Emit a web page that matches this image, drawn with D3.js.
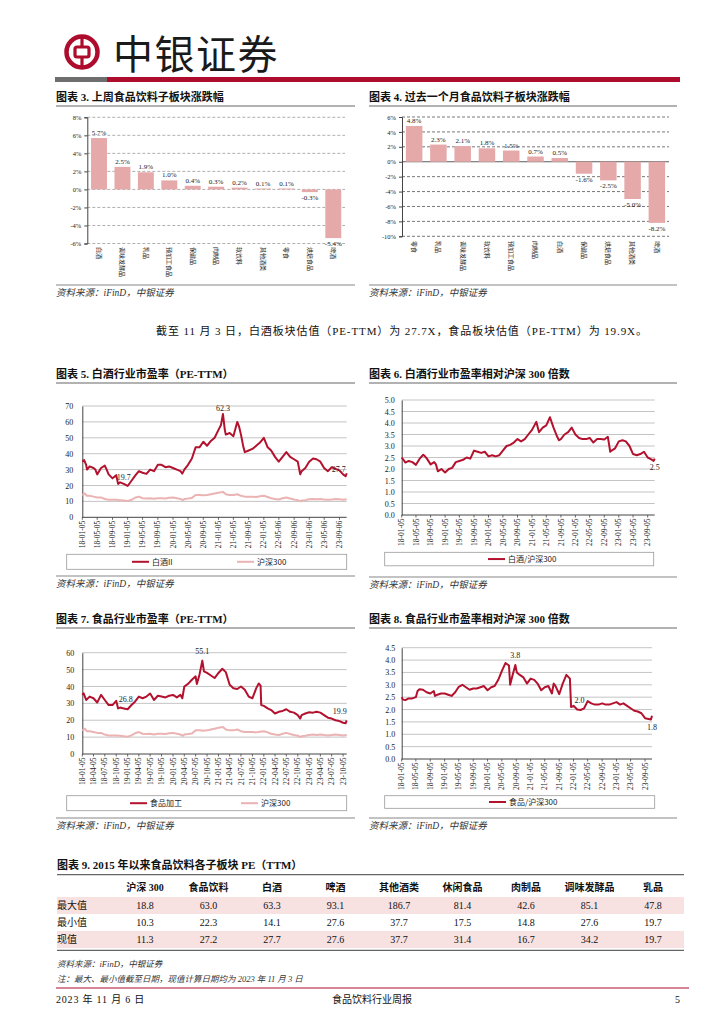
<!DOCTYPE html>
<html>
<head>
<meta charset="utf-8">
<script src="https://cdn.jsdelivr.net/npm/d3@7"></script>
<style>
  body { margin: 0; background: #fff; }
</style>
</head>
<body>
<svg id="page" width="724" height="1024"></svg>
<script>
// ---- data ----
var weekCats = ["白酒", "调味发酵品", "乳品", "预加工食品", "保健品", "肉制品", "软饮料", "其他酒类", "零食", "烘焙食品", "啤酒"];
var weekVals = [5.7, 2.5, 1.9, 1.0, 0.4, 0.3, 0.2, 0.1, 0.1, -0.3, -5.4];

var monthCats = ["零食", "乳品", "调味发酵品", "软饮料", "预加工食品", "肉制品", "白酒", "保健品", "烘焙食品", "其他酒类", "啤酒"];
var monthVals = [4.8, 2.3, 2.1, 1.8, 1.5, 0.7, 0.5, -1.6, -2.5, -5.0, -8.2];

var ticks4m = ["18-01-05", "18-05-05", "18-09-05", "19-01-05", "19-05-05", "19-09-05", "20-01-05", "20-05-05", "20-09-05",
  "21-01-05", "21-05-05", "21-09-05", "22-01-05", "22-05-06", "22-09-06", "23-01-06", "23-05-06", "23-09-06"];
var ticks4mB = ["18-01-05", "18-05-05", "18-09-05", "19-01-05", "19-05-05", "19-09-05", "20-01-05", "20-05-05", "20-09-05",
  "21-01-05", "21-05-05", "21-09-05", "22-01-05", "22-05-05", "22-09-05", "23-01-05", "23-05-05", "23-09-05"];
var ticks3m = ["18-01-05", "18-04-05", "18-07-05", "18-10-05", "19-01-05", "19-04-05", "19-07-05", "19-10-05",
  "20-01-05", "20-04-05", "20-07-05", "20-10-05", "21-01-05", "21-04-05", "21-07-05", "21-10-05",
  "22-01-05", "22-04-05", "22-07-05", "22-10-05", "23-01-05", "23-04-05", "23-07-05", "23-10-05"];

var baijiuPE = [["2018-01-05",35],["2018-01-20",36],["2018-02-05",33],["2018-02-12",30],["2018-03-05",32],["2018-04-05",31],
  ["2018-04-20",30],["2018-05-05",27],["2018-06-05",31],["2018-07-05",32.5],["2018-07-20",30],["2018-08-05",27],
  ["2018-09-05",24.5],["2018-10-05",26.5],["2018-10-20",21],["2018-11-05",22],["2018-12-05",21],["2019-01-05",19.7],
  ["2019-02-05",23],["2019-03-05",26],["2019-04-05",29],["2019-05-05",28],["2019-06-05",27.3],["2019-07-05",30],
  ["2019-08-05",29],["2019-09-05",33],["2019-10-05",33],["2019-11-05",31.5],["2019-12-05",32],["2020-01-05",31],
  ["2020-02-05",30],["2020-03-05",29],["2020-03-20",27.5],["2020-04-05",30],["2020-05-05",33],["2020-06-05",37],
  ["2020-07-05",44],["2020-08-05",44],["2020-09-05",47.5],["2020-10-05",45],["2020-11-05",48],["2020-12-05",50],
  ["2021-01-05",55],["2021-01-25",58],["2021-02-10",65],["2021-02-25",55],["2021-03-05",52],["2021-04-05",53],
  ["2021-05-05",51],["2021-06-05",60],["2021-06-20",57],["2021-07-05",52],["2021-07-25",44],["2021-08-05",41],
  ["2021-09-05",42],["2021-10-05",43],["2021-11-05",45],["2021-12-05",47],["2022-01-05",50],["2022-02-05",44],
  ["2022-03-05",42],["2022-04-05",38],["2022-05-05",35],["2022-06-05",38],["2022-07-05",41],["2022-08-05",38],
  ["2022-09-05",36.5],["2022-10-05",35],["2022-10-25",27],["2022-11-05",29],["2022-12-05",31],["2023-01-05",35],
  ["2023-02-05",37],["2023-03-05",36.5],["2023-04-05",35],["2023-05-05",31],["2023-06-05",29],["2023-07-05",31.5],
  ["2023-08-05",30.5],["2023-09-05",29.5],["2023-10-05",27],["2023-10-25",25.8],["2023-11-03",27.7]];

var hs300PE = [["2018-01-05",14],["2018-01-25",15],["2018-02-10",13.5],["2018-03-05",13.5],["2018-04-05",13],
  ["2018-05-05",12.5],["2018-06-05",12.5],["2018-07-05",11.5],["2018-08-05",11],["2018-09-05",11],["2018-10-05",11],
  ["2018-11-05",10.8],["2018-12-05",10.5],["2019-01-05",10.2],["2019-02-05",11],["2019-03-05",12.3],["2019-04-05",13],
  ["2019-05-05",12],["2019-06-05",11.8],["2019-07-05",12],["2019-08-05",11.6],["2019-09-05",12],["2019-10-05",12],
  ["2019-11-05",11.8],["2019-12-05",12.3],["2020-01-05",12.5],["2020-02-05",12],["2020-03-05",11.5],["2020-03-25",10.8],
  ["2020-04-05",11.5],["2020-05-05",11.8],["2020-06-05",12.2],["2020-07-05",14],["2020-08-05",14],["2020-09-05",13.8],
  ["2020-10-05",14],["2020-11-05",14.5],["2020-12-05",15],["2021-01-05",15.5],["2021-02-10",16],["2021-03-05",14.5],
  ["2021-04-05",14],["2021-05-05",14],["2021-06-05",14.5],["2021-07-05",13.5],["2021-08-05",13],["2021-09-05",13],
  ["2021-10-05",13],["2021-11-05",12.8],["2021-12-05",13.2],["2022-01-05",13.5],["2022-02-05",12.8],["2022-03-05",12],
  ["2022-04-05",11.5],["2022-05-05",11.2],["2022-06-05",12],["2022-07-05",12.5],["2022-08-05",11.8],["2022-09-05",11.2],
  ["2022-10-05",10.8],["2022-10-30",10],["2022-11-05",10.5],["2022-12-05",10.8],["2023-01-05",11.3],["2023-02-05",11.5],
  ["2023-03-05",11.3],["2023-04-05",11.5],["2023-05-05",11.2],["2023-06-05",11],["2023-07-05",11.2],["2023-08-05",11.5],
  ["2023-09-05",11.3],["2023-10-05",11],["2023-11-03",11.3]];

var baijiuRel = [["2018-01-05",2.5],["2018-01-20",2.4],["2018-02-05",2.28],["2018-03-05",2.35],["2018-04-05",2.3],
  ["2018-05-05",2.18],["2018-06-05",2.45],["2018-07-05",2.62],["2018-07-20",2.55],["2018-08-05",2.45],["2018-09-05",2.2],
  ["2018-10-05",2.3],["2018-10-20",2.2],["2018-11-05",1.9],["2018-12-05",2.0],["2019-01-05",1.85],["2019-02-05",2.0],
  ["2019-03-05",2.05],["2019-04-05",2.3],["2019-05-05",2.35],["2019-06-05",2.4],["2019-07-05",2.5],["2019-08-05",2.45],
  ["2019-09-05",2.8],["2019-10-05",2.75],["2019-11-05",2.7],["2019-12-05",2.75],["2020-01-05",2.55],["2020-02-05",2.6],
  ["2020-03-05",2.55],["2020-04-05",2.6],["2020-05-05",2.8],["2020-06-05",3.0],["2020-07-05",3.05],["2020-08-05",3.15],
  ["2020-09-05",3.3],["2020-10-05",3.2],["2020-11-05",3.3],["2020-12-05",3.5],["2021-01-05",3.7],["2021-02-10",4.05],
  ["2021-03-05",3.6],["2021-04-05",3.8],["2021-05-05",3.9],["2021-06-05",4.25],["2021-07-05",3.8],["2021-08-05",3.4],
  ["2021-08-20",3.25],["2021-09-05",3.3],["2021-10-05",3.5],["2021-11-05",3.6],["2021-12-05",3.8],["2022-01-05",3.5],
  ["2022-02-05",3.35],["2022-03-05",3.3],["2022-04-05",3.3],["2022-05-05",3.35],["2022-06-05",3.15],["2022-07-05",3.3],
  ["2022-08-05",3.3],["2022-09-05",3.28],["2022-10-05",3.4],["2022-10-25",2.75],["2022-11-05",2.8],["2022-12-05",2.9],
  ["2023-01-05",3.2],["2023-02-05",3.25],["2023-03-05",3.2],["2023-04-05",3.0],["2023-05-05",2.65],["2023-06-05",2.6],
  ["2023-07-05",2.65],["2023-08-05",2.75],["2023-09-05",2.5],["2023-10-05",2.42],["2023-10-25",2.35],["2023-11-03",2.45]];

var foodPE = [["2018-01-05",35],["2018-01-15",36],["2018-02-05",32],["2018-03-05",34],["2018-04-05",33],["2018-05-05",30.5],
  ["2018-06-05",35],["2018-07-05",32],["2018-08-05",29],["2018-09-05",29],["2018-10-05",31.5],["2018-10-20",27],
  ["2018-11-05",27.5],["2018-12-05",27],["2019-01-05",26.5],["2019-02-05",29],["2019-03-05",31],["2019-04-05",34],
  ["2019-05-05",33],["2019-06-05",34],["2019-07-05",35.8],["2019-08-05",32],["2019-09-05",34.5],["2019-10-05",34],
  ["2019-11-05",33.5],["2019-12-05",34.5],["2020-01-05",35],["2020-02-05",33.5],["2020-03-05",35],["2020-03-20",33],
  ["2020-04-05",40],["2020-05-05",41.5],["2020-06-05",44],["2020-07-05",46],["2020-07-15",41.5],["2020-08-05",47],
  ["2020-08-28",55.3],["2020-09-10",49],["2020-10-05",48],["2020-11-05",46.5],["2020-12-05",45],["2021-01-05",48],
  ["2021-02-05",50.5],["2021-03-05",48.5],["2021-04-05",41],["2021-05-05",39],["2021-06-05",38.5],["2021-07-05",40],
  ["2021-08-05",38],["2021-09-05",34],["2021-10-05",33],["2021-11-05",39],["2021-11-25",41.8],["2021-12-10",40.5],
  ["2021-12-15",29],["2022-01-05",28.5],["2022-02-05",27],["2022-03-05",26],["2022-04-05",24],["2022-05-05",25],
  ["2022-06-05",25.5],["2022-07-05",26.5],["2022-08-05",25],["2022-09-05",24.5],["2022-10-05",23],["2022-10-25",21],
  ["2022-11-05",23],["2022-12-05",24],["2023-01-05",24.7],["2023-02-05",24.5],["2023-03-05",25],["2023-04-05",24.5],
  ["2023-05-05",23],["2023-06-05",21.5],["2023-07-05",21],["2023-08-05",20],["2023-09-05",19.5],["2023-10-05",18.5],
  ["2023-10-25",18.2],["2023-11-03",19.9]];

var foodRel = [["2018-01-05",2.5],["2018-01-15",2.4],["2018-02-05",2.38],["2018-03-05",2.45],["2018-04-05",2.45],
  ["2018-05-05",2.5],["2018-05-20",2.75],["2018-06-05",2.82],["2018-07-05",2.8],["2018-08-05",2.7],["2018-09-05",2.65],
  ["2018-10-05",2.75],["2018-10-15",2.55],["2018-11-05",2.6],["2018-12-05",2.65],["2019-01-05",2.65],["2019-02-05",2.6],
  ["2019-03-05",2.55],["2019-04-05",2.7],["2019-05-05",2.92],["2019-06-05",3.0],["2019-07-05",2.9],["2019-08-05",2.8],
  ["2019-09-05",2.85],["2019-10-05",2.85],["2019-11-05",2.9],["2019-12-05",2.95],["2020-01-05",2.78],["2020-02-05",2.9],
  ["2020-03-05",2.95],["2020-04-05",3.2],["2020-05-05",3.55],["2020-06-05",3.88],["2020-07-05",3.78],["2020-07-15",3.0],
  ["2020-08-05",3.4],["2020-08-28",3.8],["2020-09-10",3.5],["2020-10-05",3.4],["2020-11-05",3.3],["2020-12-05",3.05],
  ["2021-01-05",3.25],["2021-02-05",3.2],["2021-03-05",3.05],["2021-04-05",2.78],["2021-05-05",2.9],["2021-06-05",2.95],
  ["2021-07-05",2.65],["2021-07-20",3.05],["2021-08-05",2.95],["2021-09-05",2.62],["2021-10-05",3.05],["2021-11-05",3.4],
  ["2021-12-05",3.25],["2021-12-15",2.1],["2022-01-05",2.15],["2022-02-05",2.0],["2022-03-05",1.98],["2022-04-05",2.05],
  ["2022-05-05",2.34],["2022-06-05",2.25],["2022-07-05",2.2],["2022-08-05",2.2],["2022-09-05",2.25],["2022-10-05",2.2],
  ["2022-11-05",2.2],["2022-12-05",2.25],["2023-01-05",2.3],["2023-02-05",2.2],["2023-03-05",2.25],["2023-04-05",2.15],
  ["2023-05-05",2.05],["2023-06-05",1.95],["2023-07-05",1.92],["2023-08-05",1.85],["2023-09-05",1.65],["2023-10-05",1.62],
  ["2023-10-25",1.6],["2023-11-03",1.75]];

var tableCols = ["沪深 300", "食品饮料", "白酒", "啤酒", "其他酒类", "休闲食品", "肉制品", "调味发酵品", "乳品"];
var tableRows = ["最大值", "最小值", "现值"];
var maxVals = [18.8, 63.0, 63.3, 93.1, 186.7, 81.4, 42.6, 85.1, 47.8];
var minVals = [10.3, 22.3, 14.1, 27.6, 37.7, 17.5, 14.8, 27.6, 19.7];
var curVals = [11.3, 27.2, 27.7, 27.6, 37.7, 31.4, 16.7, 34.2, 19.7];

// ---- drawing ----
var SERIF = "'Liberation Serif','Noto Sans CJK SC',serif";
var CJK = "'Noto Sans CJK SC',sans-serif";
var RED = "#ad0c2c";
var LINE_RED = "#b3122e";
var PINK = "#ebb3b3";
var BAR = "#e6a9a9";

var svg = d3.select("#page");
svg.append("rect").attr("width", 724).attr("height", 1024).attr("fill", "#fff");

var parseDay = d3.timeParse("%Y-%m-%d");
var parseTick = d3.timeParse("%y-%m-%d");
var START = parseDay("2018-01-05"), END = parseDay("2023-11-03");

function text(g, x, y, s, size, opts) {
    opts = opts || {};
    return g.append("text")
        .attr("x", x).attr("y", y)
        .attr("font-family", opts.font || SERIF)
        .attr("font-size", size)
        .attr("font-weight", opts.bold ? "bold" : null)
        .attr("font-style", opts.italic ? "italic" : null)
        .attr("text-anchor", opts.anchor || "start")
        .attr("fill", opts.fill || "#111")
        .text(s);
}

function hline(g, x1, x2, y, color, w) {
    g.append("line").attr("x1", x1).attr("x2", x2).attr("y1", y).attr("y2", y)
        .attr("stroke", color).attr("stroke-width", w || 1);
}

// header
(function() {
    var g = svg.append("g");
    var cx = 82, cy = 52;
    g.append("circle").attr("cx", cx).attr("cy", cy).attr("r", 15.5)
        .attr("fill", "none").attr("stroke", RED).attr("stroke-width", 4.5);
    g.append("rect").attr("x", cx - 7).attr("y", cy - 5).attr("width", 14).attr("height", 10).attr("rx", 2)
        .attr("fill", "none").attr("stroke", RED).attr("stroke-width", 3.2);
    g.append("line").attr("x1", cx).attr("x2", cx).attr("y1", cy - 16).attr("y2", cy - 6)
        .attr("stroke", RED).attr("stroke-width", 3.2);
    g.append("line").attr("x1", cx).attr("x2", cx).attr("y1", cy + 6).attr("y2", cy + 16)
        .attr("stroke", RED).attr("stroke-width", 3.2);
    text(g, 113, 69, "中银证券", 40, {font: CJK, fill: "#1a1a1a"}).attr("letter-spacing", 1.5);
    g.append("rect").attr("x", 55).attr("y", 77).attr("width", 52).attr("height", 5).attr("fill", "#6e6e6e");
    g.append("rect").attr("x", 107).attr("y", 77).attr("width", 573).attr("height", 5).attr("fill", RED);
})();

function chartFrame(x1, x2, titleY, title, srcLineY) {
    var g = svg.append("g");
    text(g, x1, titleY, title, 11, {bold: true});
    hline(g, x1, x2, titleY + 5, "#666", 1.2);
    hline(g, x1, x2, srcLineY, "#888", 1.2);
    text(g, x1, srcLineY + 11, "资料来源：iFinD，中银证券", 9.5, {italic: true, fill: "#333"});
    return g;
}

function barChart(g, cats, vals, c) {
    var x = d3.scaleBand().domain(cats).range([c.left, c.right]).paddingInner(0.32).paddingOuter(0.16);
    var y = d3.scaleLinear().domain(c.domain).range([c.bottom, c.top]);
    var ticks = d3.range(c.domain[0], c.domain[1] + 1, 2);

    g.selectAll(null).data(ticks).enter().append("line")
        .attr("x1", c.left).attr("x2", c.right)
        .attr("y1", function(d) { return y(d); }).attr("y2", function(d) { return y(d); })
        .attr("stroke", function(d) { return (d == 0 && c.zeroSolid) ? "#333" : c.grid; })
        .attr("stroke-width", 0.8)
        .attr("stroke-dasharray", function(d) { return (d == 0 && c.zeroSolid) ? null : "3,2"; });

    var ax = g.append("g").attr("transform", "translate(" + c.left + ",0)")
        .call(d3.axisLeft(y).tickValues(ticks).tickSize(3).tickPadding(3).tickFormat(function(d) { return d + "%"; }));
    ax.select(".domain").attr("stroke", "#444");
    ax.selectAll(".tick line").attr("stroke", "#444");
    ax.selectAll("text").attr("font-family", SERIF).attr("font-size", 6.5).attr("fill", "#222");

    g.selectAll(null).data(vals).enter().append("rect")
        .attr("x", function(d, i) { return x(cats[i]); })
        .attr("width", x.bandwidth())
        .attr("y", function(d) { return y(Math.max(0, d)); })
        .attr("height", function(d) { return Math.abs(y(d) - y(0)); })
        .attr("fill", BAR);

    g.selectAll(null).data(vals).enter().append("text")
        .attr("x", function(d, i) { return x(cats[i]) + x.bandwidth() / 2; })
        .attr("y", function(d) { return d >= 0 ? y(d) - 3 : y(d) + 8; })
        .attr("text-anchor", "middle")
        .attr("font-family", SERIF).attr("font-size", 7).attr("fill", "#222")
        .text(function(d) { return d.toFixed(1) + "%"; });

    // vertical category names
    g.selectAll(null).data(cats).enter().append("text")
        .attr("transform", function(d) {
            return "translate(" + (x(d) + x.bandwidth() / 2) + "," + c.labelY + ") rotate(90)";
        })
        .attr("dy", "0.35em")
        .attr("font-family", CJK).attr("font-size", 6).attr("fill", "#222")
        .text(function(d) { return d; });
}

function lineChart(g, c) {
    var x = d3.scaleTime().domain([START, END]).range([c.left, c.right]);
    var y = d3.scaleLinear().domain([0, c.max]).range([c.bottom, c.top]);
    var yTicks = d3.range(0, c.max + c.step / 2, c.step);

    g.selectAll(null).data(yTicks.filter(function(d) { return d > 0; })).enter().append("line")
        .attr("x1", c.left).attr("x2", c.right)
        .attr("y1", function(d) { return y(d); }).attr("y2", function(d) { return y(d); })
        .attr("stroke", "#b5b5b5").attr("stroke-width", 0.8);

    var ax = g.append("g").attr("transform", "translate(" + c.left + ",0)")
        .call(d3.axisLeft(y).tickValues(yTicks).tickSize(0).tickPadding(c.pad).tickFormat(c.fmt));
    ax.select(".domain").attr("stroke", "#444");
    ax.selectAll("text").attr("font-family", SERIF).attr("font-size", 8).attr("fill", "#222");

    hline(g, c.left, c.right, c.bottom, "#444", 1);
    g.selectAll(null).data(c.ticks).enter().append("line")
        .attr("x1", function(d) { return x(parseTick(d)); }).attr("x2", function(d) { return x(parseTick(d)); })
        .attr("y1", c.bottom).attr("y2", c.bottom + 2.5)
        .attr("stroke", "#444").attr("stroke-width", 0.8);
    g.selectAll(null).data(c.ticks).enter().append("text")
        .attr("transform", function(d) {
            return "translate(" + x(parseTick(d)) + "," + (c.bottom + 3.5) + ") rotate(-90)";
        })
        .attr("text-anchor", "end").attr("dy", "0.35em")
        .attr("font-family", SERIF).attr("font-size", 7.5).attr("fill", "#222")
        .text(function(d) { return d; });

    var line = d3.line()
        .x(function(d) { return x(parseDay(d[0])); })
        .y(function(d) { return y(d[1]); });
    c.series.forEach(function(s) {
        g.append("path").datum(s.data).attr("d", line)
            .attr("fill", "none").attr("stroke", s.color).attr("stroke-width", 2)
            .attr("stroke-linejoin", "round");
    });

    c.notes.forEach(function(n) {
        var pt = c.series[c.series.length - 1].data.find(function(d) { return d[0] == n.date; });
        text(g, x(parseDay(pt[0])) + n.dx, y(pt[1]) + n.dy, n.text, 8, {anchor: "middle", fill: "#222"});
    });

    // legend box
    var b = c.legend;
    g.append("rect").attr("x", b.x).attr("y", b.y).attr("width", b.w).attr("height", b.h)
        .attr("fill", "#fff").attr("stroke", "#999").attr("stroke-width", 0.8);
    b.items.forEach(function(it, i) {
        var s = c.series[it.s];
        hline(g, it.x, it.x + 17, b.y + b.h / 2, s.color, 2);
        text(g, it.x + 20, b.y + b.h / 2 + 3, it.label, 8, {font: CJK, fill: "#222"});
    });
}

// chart 3
var g3 = chartFrame(56, 355, 101, "图表 3. 上周食品饮料子板块涨跌幅", 285);
barChart(g3, weekCats, weekVals, {left: 87.3, right: 345, top: 117.3, bottom: 243.5, domain: [-6, 8],
    grid: "#9a9a9a", zeroSolid: false, labelY: 247});

// chart 4
var g4 = chartFrame(369, 677, 101, "图表 4. 过去一个月食品饮料子板块涨跌幅", 285);
barChart(g4, monthCats, monthVals, {left: 402, right: 669, top: 117, bottom: 236.3, domain: [-10, 6],
    grid: "#555", zeroSolid: true, labelY: 241});

// paragraph
text(svg, 156, 335, "截至 11 月 3 日，白酒板块估值（PE-TTM）为 27.7X，食品板块估值（PE-TTM）为 19.9X。", 11, {fill: "#111"})
    .attr("letter-spacing", 0.9);

// chart 5
var g5 = chartFrame(56, 355, 378, "图表 5. 白酒行业市盈率（PE-TTM）", 576);
lineChart(g5, {left: 82.3, right: 346.7, top: 406, bottom: 517.3, max: 70, step: 10, pad: 9,
    fmt: d3.format("d"), ticks: ticks4m,
    series: [{data: hs300PE, color: PINK}, {data: baijiuPE, color: LINE_RED}],
    notes: [{date: "2021-02-10", text: "62.3", dx: 0, dy: -3},
            {date: "2019-01-05", text: "19.7", dx: -4, dy: -6},
            {date: "2023-11-03", text: "27.7", dx: -8, dy: -1}],
    legend: {x: 66.7, y: 554.3, w: 280, h: 15,
        items: [{s: 1, x: 132, label: "白酒II"}, {s: 0, x: 237, label: "沪深300"}]}});

// chart 6
var g6 = chartFrame(369, 677, 378, "图表 6. 白酒行业市盈率相对沪深 300 倍数", 577);
lineChart(g6, {left: 401.7, right: 654.7, top: 400, bottom: 515, max: 5, step: 0.5, pad: 7,
    fmt: d3.format(".1f"), ticks: ticks4mB,
    series: [{data: baijiuRel, color: LINE_RED}],
    notes: [{date: "2023-11-03", text: "2.5", dx: 0, dy: 11}],
    legend: {x: 384.7, y: 552.3, w: 269, h: 13.5,
        items: [{s: 0, x: 488, label: "白酒/沪深300"}]}});

// chart 7
var g7 = chartFrame(56, 355, 623, "图表 7. 食品行业市盈率（PE-TTM）", 818);
lineChart(g7, {left: 82.3, right: 346.7, top: 652.7, bottom: 754, max: 60, step: 10, pad: 8,
    fmt: d3.format("d"), ticks: ticks3m,
    series: [{data: hs300PE, color: PINK}, {data: foodPE, color: LINE_RED}],
    notes: [{date: "2020-08-28", text: "55.1", dx: 0, dy: -7},
            {date: "2019-01-05", text: "26.8", dx: -2, dy: -7.5},
            {date: "2023-11-03", text: "19.9", dx: -7, dy: -6}],
    legend: {x: 66.7, y: 795.7, w: 280, h: 15,
        items: [{s: 1, x: 130, label: "食品加工"}, {s: 0, x: 241, label: "沪深300"}]}});

// chart 8
var g8 = chartFrame(369, 677, 623, "图表 8. 食品行业市盈率相对沪深 300 倍数", 818);
lineChart(g8, {left: 401.7, right: 652, top: 647.7, bottom: 759, max: 4.5, step: 0.5, pad: 6.5,
    fmt: d3.format(".1f"), ticks: ticks4mB,
    series: [{data: foodRel, color: LINE_RED}],
    notes: [{date: "2020-08-28", text: "3.8", dx: 0, dy: -7},
            {date: "2022-01-05", text: "2.0", dx: 6, dy: -2.5},
            {date: "2023-11-03", text: "1.8", dx: 0, dy: 14}],
    legend: {x: 384.7, y: 795.7, w: 270, h: 12.6,
        items: [{s: 0, x: 489, label: "食品/沪深300"}]}});

// table 9
(function() {
    var g = svg.append("g");
    text(g, 57, 869, "图表 9. 2015 年以来食品饮料各子板块 PE（TTM）", 11, {bold: true});
    hline(g, 57, 684, 874.7, "#666", 1.2);
    var col = d3.scalePoint().domain(tableCols).range([145, 653]);
    var row = d3.scaleBand().domain(tableRows).range([897, 948]);
    var rowVals = [maxVals, minVals, curVals];
    tableRows.forEach(function(r, i) {
        if (i != 1) {
            g.append("rect").attr("x", 57).attr("y", row(r)).attr("width", 627).attr("height", row.bandwidth())
                .attr("fill", "#f8e1e1");
        }
    });
    tableCols.forEach(function(cname) {
        text(g, col(cname), 891, cname, 10, {anchor: "middle", bold: true});
    });
    tableRows.forEach(function(r, i) {
        var cy = row(r) + row.bandwidth() / 2 + 3.5;
        text(g, 57, cy, r, 10, {font: CJK});
        rowVals[i].forEach(function(v, j) {
            text(g, col(tableCols[j]), cy, v.toFixed(1), 10, {anchor: "middle"});
        });
    });
    hline(g, 57, 684, 950.4, "#666", 1.2);
    text(g, 57, 967, "资料来源：iFinD，中银证券", 8.5, {italic: true, fill: "#333"});
    text(g, 57, 982, "注：最大、最小值截至日期，现值计算日期均为 2023 年 11 月 3 日", 8.5, {italic: true, fill: "#333"});
})();

// footer
hline(svg, 56, 689, 988, RED, 1.2);
text(svg, 56, 1003, "2023 年 11 月 6 日", 10).attr("letter-spacing", 0.8);
text(svg, 372, 1003, "食品饮料行业周报", 10, {anchor: "middle"});
text(svg, 680, 1003, "5", 10, {anchor: "end"});
</script>
</body>
</html>
